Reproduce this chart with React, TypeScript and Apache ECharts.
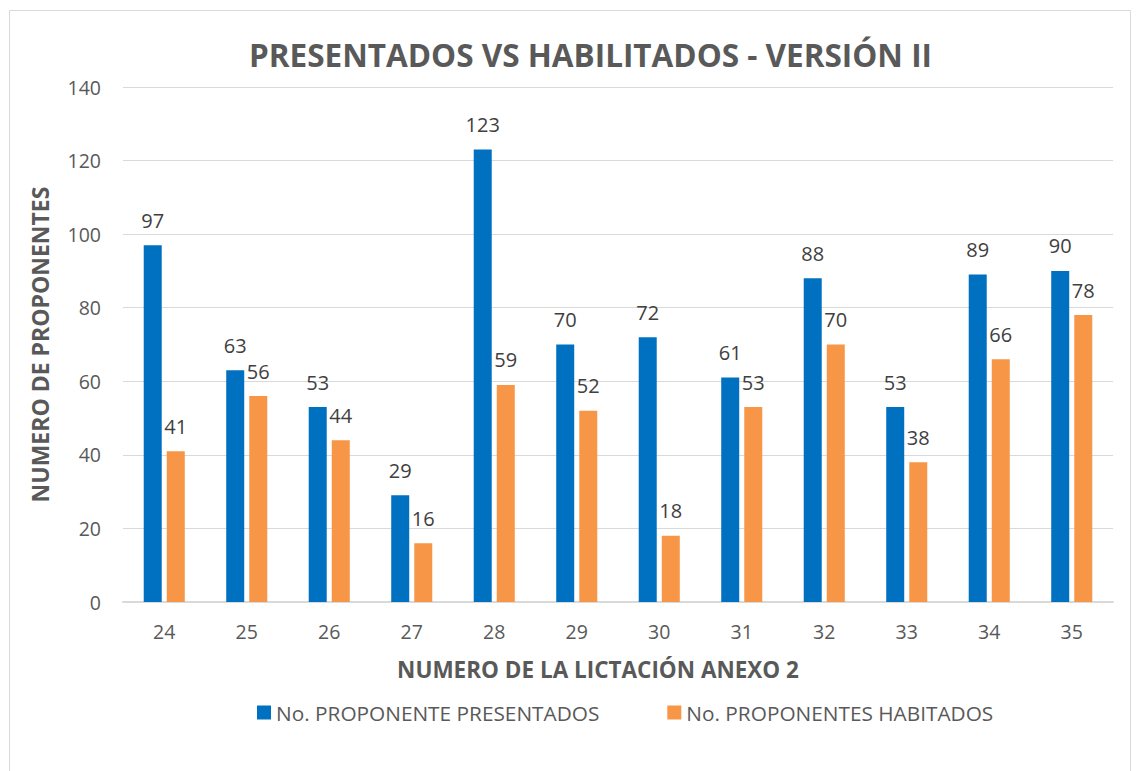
import React, { useEffect, useRef } from "react";
import * as echarts from "echarts";

const categories = ["24", "25", "26", "27", "28", "29", "30", "31", "32", "33", "34", "35"];
const presentados = [97, 63, 53, 29, 123, 70, 72, 61, 88, 53, 89, 90];
const habilitados = [41, 56, 44, 16, 59, 52, 18, 53, 70, 38, 66, 78];
const seriesNames = ["No. PROPONENTE PRESENTADOS", "No. PROPONENTES HABITADOS"];

const FONT = "'Open Sans', 'Noto Sans', sans-serif";

export default function App() {
  const ref = useRef<HTMLDivElement>(null);
  useEffect(() => {
    if (!ref.current) return;
    const chart = echarts.init(ref.current, undefined, { renderer: "svg" });
    const labelStyle = {
      show: true,
      position: "top" as const,
      distance: 15,
      color: "#404040",
      fontSize: 20,
      fontFamily: FONT,
    };
    chart.setOption({
      animation: false,
      backgroundColor: "#fff",
      textStyle: { fontFamily: FONT },
      graphic: [
        {
          type: "rect",
          shape: { x: 9.5, y: 10.5, width: 1121, height: 780 },
          style: { fill: "none", stroke: "#d9d9d9", lineWidth: 1 },
          silent: true,
          z: -10,
        },
      ],
      title: {
        text: "PRESENTADOS VS HABILITADOS - VERSIÓN II",
        left: 244,
        top: 33,
        textStyle: { fontSize: 31.5, fontWeight: "bold", color: "#595959", fontFamily: FONT },
      },
      legend: {
        top: 697,
        left: 252,
        itemWidth: 14,
        itemHeight: 14,
        itemGap: 68,
        icon: "rect",
        textStyle: { fontSize: 20.8, color: "#595959", fontFamily: FONT },
        data: seriesNames,
      },
      grid: { left: 123, right: 24, top: 87, bottom: 169, containLabel: false },
      xAxis: {
        type: "category",
        data: categories,
        name: "NUMERO DE LA LICTACIÓN ANEXO 2",
        nameLocation: "middle",
        nameGap: 56,
        nameTextStyle: {
          fontSize: 22.5,
          fontWeight: "bold",
          color: "#595959",
          fontFamily: FONT,
          padding: [0, 40, 0, 0],
        },
        axisLine: { lineStyle: { color: "#d9d9d9", width: 2 } },
        axisTick: { show: false },
        axisLabel: { fontSize: 19.5, color: "#595959", margin: 19, fontFamily: FONT },
      },
      yAxis: {
        type: "value",
        min: 0,
        max: 140,
        interval: 20,
        name: "NUMERO DE PROPONENTES",
        nameLocation: "middle",
        nameGap: 72,
        nameRotate: 90,
        nameTextStyle: { fontSize: 23, fontWeight: "bold", color: "#595959", fontFamily: FONT },
        axisLine: { show: false },
        axisTick: { show: false },
        splitLine: { lineStyle: { color: "#d9d9d9", width: 1 } },
        axisLabel: { fontSize: 19.5, color: "#595959", margin: 22, fontFamily: FONT },
      },
      series: [
        {
          name: seriesNames[0],
          type: "bar",
          data: presentados,
          barWidth: 18,
          barGap: "28%",
          itemStyle: { color: "#0070C0" },
          label: labelStyle,
        },
        {
          name: seriesNames[1],
          type: "bar",
          data: habilitados,
          barWidth: 18,
          itemStyle: { color: "#F79646" },
          label: labelStyle,
        },
      ],
    });
    return () => chart.dispose();
  }, []);
  return (
    <div
      ref={ref}
      style={{ position: "absolute", left: 0, top: 0, width: 1137, height: 771 }}
    />
  );
}
